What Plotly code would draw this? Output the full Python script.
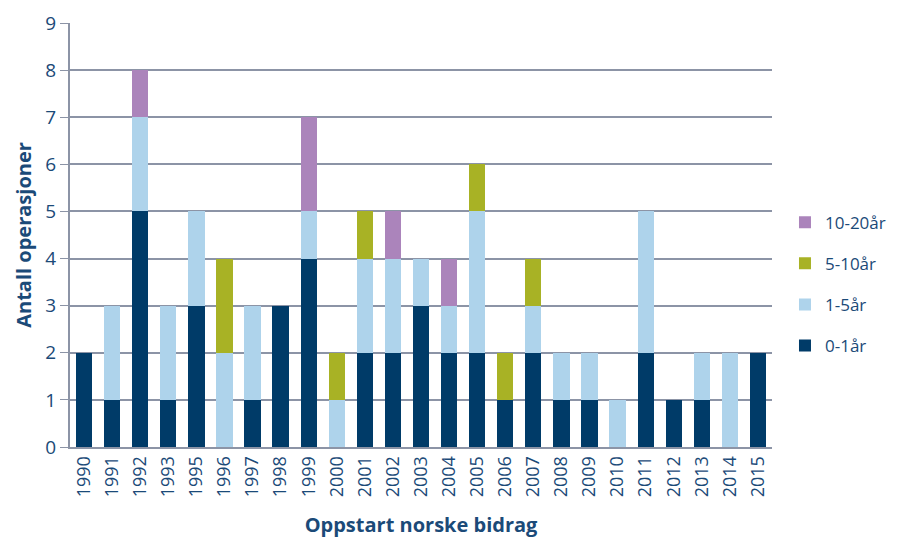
import plotly.graph_objects as go

years = ["1990","1991","1992","1993","1995","1996","1997","1998","1999","2000","2001","2002","2003",
         "2004","2005","2006","2007","2008","2009","2010","2011","2012","2013","2014","2015"]
s0_1 =   [2,1,5,1,3,0,1,3,4,0,2,2,3,2,2,1,2,1,1,0,2,1,1,0,2]
s1_5 =   [0,2,2,2,2,2,2,0,1,1,2,2,1,1,3,0,1,1,1,1,3,0,1,2,0]
s5_10 =  [0,0,0,0,0,2,0,0,0,1,1,0,0,0,1,1,1,0,0,0,0,0,0,0,0]
s10_20 = [0,0,1,0,0,0,0,0,2,0,0,1,0,1,0,0,0,0,0,0,0,0,0,0,0]

series = [("0-1år", s0_1, "#003B68"), ("1-5år", s1_5, "#AED3EB"),
          ("5-10år", s5_10, "#A8B225"), ("10-20år", s10_20, "#AB84BB")]

txt = "#1B4A78"
fig = go.Figure()
for i, (name, vals, col) in enumerate(series):
    fig.add_trace(go.Bar(x=years, y=vals, name=name, marker_color=col,
                         marker_line_width=0, legendgroup=name, legendrank=10 - i))

# page body has an 8px default margin; compensate so the plot area sits where the reference has it
fig.update_layout(
    barmode="stack", bargap=0.42,
    width=889, height=530,
    margin=dict(l=62, r=125, t=15, b=91),
    plot_bgcolor="white", paper_bgcolor="white",
    font=dict(family="Open Sans", color=txt, size=17),
    legend=dict(traceorder="grouped", xref="container", yref="container",
                x=0.874, xanchor="left", y=0.479, yanchor="middle",
                tracegroupgap=16, font=dict(size=17, color=txt)),
    xaxis=dict(type="category", tickangle=-90, showline=True, linecolor="#8C94A6",
               linewidth=2, ticks="", tickfont=dict(size=18, color=txt), automargin=False,
               title=dict(text="<b>Oppstart norske bidrag</b>", font=dict(size=20, color=txt),
                          standoff=22)),
    yaxis=dict(range=[0, 9], dtick=1, showgrid=True, gridcolor="#8C94A6", gridwidth=1.5,
               showline=True, linecolor="#8C94A6", linewidth=2, ticks="outside",
               ticklen=8, tickcolor="#8C94A6", zeroline=False, automargin=False,
               tickfont=dict(size=19, color=txt),
               title=dict(text="<b>Antall operasjoner</b>", font=dict(size=20, color=txt),
                          standoff=8)),
)
fig.write_html("out.html")
